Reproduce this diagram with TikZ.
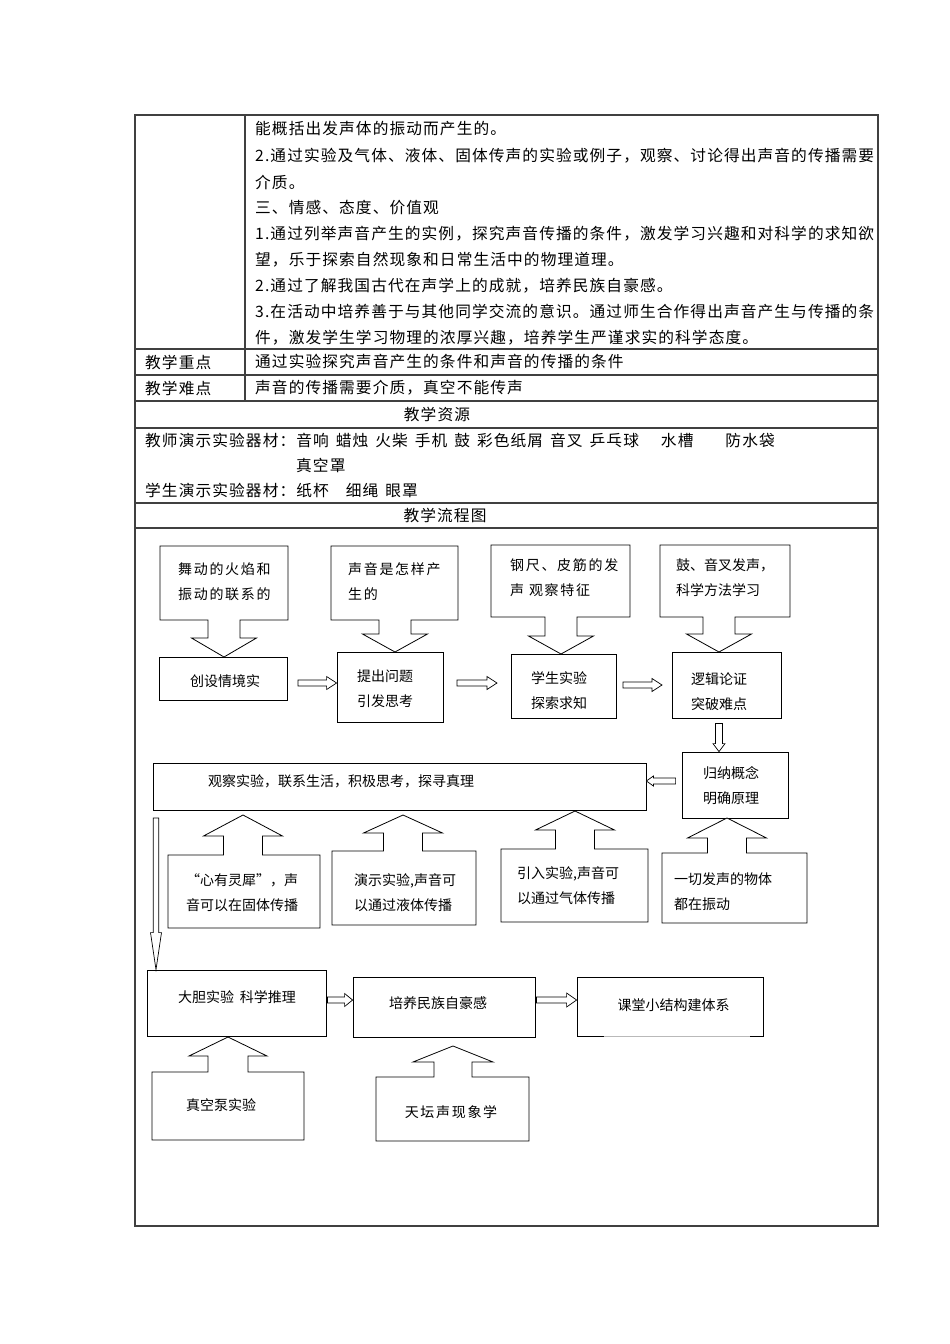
\documentclass[tikz,border=0pt]{standalone}
\usepackage{fontspec}
\setmainfont{Noto Sans CJK SC}
\newfontfamily\TabFam[LetterSpace=7]{Noto Sans CJK SC}
\newfontfamily\FlowFam{Noto Sans CJK SC}
\newfontfamily\FlowSpFam[LetterSpace=12]{Noto Sans CJK SC}
\newcommand{\TabF}{\TabFam\fontsize{15.7}{26}\selectfont}
\newcommand{\FlowF}{\FlowFam\fontsize{14}{25}\selectfont}
\newcommand{\FlowS}{\FlowSpFam\fontsize{14}{25}\selectfont}
\usetikzlibrary{calc}
\def\NeckH{16}
\def\HeadH{32}
% callout: #1 xl, #2 xr, #3 y near (neck side), #4 y far, #5 x arrow centre, #6 y head base, #7 y tip
\newcommand{\callout}[7]{%
  \draw[cal] (#1,#4) -- (#2,#4) -- (#2,#3) -- (#5+\NeckH,#3) -- (#5+\NeckH,#6) -- (#5+\HeadH,#6)
    -- (#5,#7) -- (#5-\HeadH,#6) -- (#5-\NeckH,#6) -- (#5-\NeckH,#3) -- (#1,#3) -- cycle;}
% block arrow: #1 start, #2 tip, #3 shaft half, #4 head half, #5 head length
\newcommand{\blkarrow}[5]{%
  \coordinate (hb) at ($(#2)!#5pt!(#1)$);
  \draw[blk] ($(#1)!#3pt!90:(#2)$) -- ($(hb)!#3pt!90:(#2)$) -- ($(hb)!#4pt!90:(#2)$) -- (#2)
    -- ($(hb)!#4pt!-90:(#2)$) -- ($(hb)!#3pt!-90:(#2)$) -- ($(#1)!#3pt!-90:(#2)$) -- cycle;}
\begin{document}
\begin{tikzpicture}[x=1pt,y=-1pt,
  tab/.style={line width=1.1pt, draw=black!75},
  tt/.style={font=\TabF, anchor=west, inner sep=0pt},
  tc/.style={font=\TabF, inner sep=0pt},
  fbox/.style={draw, line width=0.8pt, inner sep=0pt},
  cal/.style={draw, line width=0.8pt, fill=white},
  blk/.style={draw, line width=0.7pt, fill=white},
  ft/.style={font=\FlowF, align=left, inner sep=0pt},
  fs/.style={font=\FlowS, align=left, inner sep=0pt}]
\useasboundingbox (0,0) rectangle (950,1344);
\fill[white] (0,0) rectangle (950,1344);

% ---------- table ----------
\draw[tab] (135,115) rectangle (878,1226);
\draw[tab] (245,115) -- (245,401);
\foreach \yy in {349,375,401,428,503,528} \draw[tab] (135,\yy) -- (878,\yy);

\node[tt] (o1) at (255,129) {能概括出发声体的振动而产生的。};
\node[tt] (o2) at (255,156) {2.通过实验及气体、液体、固体传声的实验或例子，观察、讨论得出声音的传播需要};
\node[tt] (o3) at (255,182) {介质。};
\node[tt] (o4) at (255,208) {三、情感、态度、价值观};
\node[tt] (o5) at (255,234) {1.通过列举声音产生的实例，探究声音传播的条件，激发学习兴趣和对科学的求知欲};
\node[tt] (o6) at (255,260) {望，乐于探索自然现象和日常生活中的物理道理。};
\node[tt] (o7) at (255,286) {2.通过了解我国古代在声学上的成就，培养民族自豪感。};
\node[tt] (o8) at (255,312) {3.在活动中培养善于与其他同学交流的意识。通过师生合作得出声音产生与传播的条};
\node[tt] (o9) at (255,338) {件，激发学生学习物理的浓厚兴趣，培养学生严谨求实的科学态度。};

\node[tt] (zd) at (145,362) {教学重点};
\node[tt] (zdt) at (255,362) {通过实验探究声音产生的条件和声音的传播的条件};
\node[tt] (nd) at (145,388) {教学难点};
\node[tt] (ndt) at (255,388) {声音的传播需要介质，真空不能传声};
\node[tc] (zy) at (437,414) {教学资源};
\node[tt] (qc1) at (145,440) {教师演示实验器材：音响\hspace{7pt}蜡烛\hspace{7pt}火柴\hspace{7pt}手机\hspace{7pt}鼓\hspace{7pt}彩色纸屑\hspace{7pt}音叉\hspace{7pt}乒乓球\hspace{22pt}水槽\hspace{32pt}防水袋};
\node[tt] (qc2) at (296,465) {真空罩};
\node[tt] (qc3) at (145,490) {学生演示实验器材：纸杯\hspace{17pt}细绳\hspace{7pt}眼罩};
\node[tc] (lct) at (445,515) {教学流程图};

% ---------- row 1 ----------
\node[fbox, minimum width=128pt, minimum height=43pt] (b1) at (223,678.5) {};
\node[fbox, minimum width=106pt, minimum height=70pt] (b2) at (390,687) {};
\node[fbox, minimum width=105pt, minimum height=64pt] (b3) at (563.5,686) {};
\node[fbox, minimum width=109pt, minimum height=66pt] (b4) at (726.5,685) {};
\node[ft, anchor=west] (b1t) at (190,681) {创设情境实};
\node[ft, anchor=west] (b2t) at (357,688.5) {提出问题\\引发思考};
\node[ft, anchor=west] (b3t) at (531,690.5) {学生实验\\探索求知};
\node[ft, anchor=west] (b4t) at (691,692) {逻辑论证\\突破难点};

\def\NeckH{16}\def\HeadH{32.5}
\callout{160}{288}{620}{546}{224}{638}{657}
\callout{331}{458}{620}{546}{395}{634}{652}
\callout{491}{630}{617}{545}{561}{636}{654}
\callout{660}{790}{617}{545}{719}{634}{652}
\node[fs, anchor=west] (c1t) at (178,582) {舞动的火焰和\\振动的联系的};
\node[fs, anchor=west] (c2t) at (348,582) {声音是怎样产\\生的};
\node[fs, anchor=west] (c3t) at (510,578) {钢尺、皮筋的发\\声 观察特征};
\node[ft, anchor=west] (c4t) at (676,578) {鼓、音叉发声，\\科学方法学习};

\coordinate (a1s) at (298,683);
\coordinate (a1t) at (b2.west |- a1s);
\blkarrow{a1s}{a1t}{3}{6.5}{10}
\coordinate (a2s) at (457,683);
\coordinate (a2t) at (497,683);
\blkarrow{a2s}{a2t}{3}{6.5}{10}
\coordinate (a3s) at (623,685);
\coordinate (a3t) at (662,685);
\blkarrow{a3s}{a3t}{3}{6.5}{10}

% ---------- row 2 ----------
\node[fbox, minimum width=493pt, minimum height=47pt] (obs) at (399.5,786.5) {};
\node[ft, anchor=west] (obst) at (208,781) {观察实验，联系生活，积极思考，探寻真理};
\node[fbox, minimum width=106pt, minimum height=66pt] (gui) at (735,785) {};
\node[ft, anchor=west] (guit) at (703,785.5) {归纳概念\\明确原理};

\coordinate (a4s) at ($(b4.south)+(-7.5,5)$);
\coordinate (a4t) at (a4s |- gui.north);
\blkarrow{a4s}{a4t}{3.5}{6}{8}
\coordinate (a5s) at ($(gui.west)+(-6,-4)$);
\coordinate (a5t) at (obs.east |- a5s);
\blkarrow{a5s}{a5t}{3}{5}{7}

\def\NeckH{19.5}\def\HeadH{39.5}
\callout{168}{320}{855}{928}{243}{836}{815}
\callout{332}{476}{851}{925}{403}{833}{815}
\callout{501}{648}{849}{922}{575}{830}{811}
\callout{662}{807}{853}{923}{727}{838}{818}
\node[ft, anchor=west] (u1t) at (186,892.5) {“心有灵犀”，声\\音可以在固体传播};
\node[ft, anchor=west] (u2t) at (354,892.5) {演示实验,声音可\\以通过液体传播};
\node[ft, anchor=west] (u3t) at (517,885.5) {引入实验,声音可\\以通过气体传播};
\node[ft, anchor=west] (u4t) at (674,891.5) {一切发声的物体\\都在振动};

% ---------- row 3 ----------
\node[fbox, minimum width=179pt, minimum height=66pt] (k1) at (236.5,1003) {};
\node[fbox, minimum width=182pt, minimum height=60pt] (k2) at (444,1007) {};
\node[fbox, minimum width=186pt, minimum height=59pt] (k3) at (670,1006.5) {};
\draw[gray!55, line width=1pt] ($(k3.south west)+(27,0)$) -- ($(k3.south east)+(-13,0)$);
\node[ft] (k1t) at (237,997) {大胆实验\hspace{6pt}科学推理};
\node[ft] (k2t) at (438,1003) {培养民族自豪感};
\node[ft] (k3t) at (673.5,1005) {课堂小结构建体系};

\coordinate (a6s) at (156,818);
\coordinate (a6t) at (a6s |- k1.north);
\blkarrow{a6s}{a6t}{2.8}{5.5}{37}
\coordinate (a7s) at ($(k1.east)+(1,-3)$);
\coordinate (a7t) at (k2.west |- a7s);
\blkarrow{a7s}{a7t}{3}{6.5}{8}
\coordinate (a8s) at ($(k2.east)+(1,-7)$);
\coordinate (a8t) at (k3.west |- a8s);
\blkarrow{a8s}{a8t}{3}{7}{10}

\def\NeckH{20}\def\HeadH{39}
\callout{152}{304}{1072}{1140}{228}{1056}{1037}
\def\NeckH{19}\def\HeadH{40}
\callout{376}{529}{1077}{1141}{453}{1062}{1046}
\node[ft] (d1t) at (221,1105) {真空泵实验};
\node[fs] (d2t) at (451,1112) {天坛声现象学};
\end{tikzpicture}
\end{document}
